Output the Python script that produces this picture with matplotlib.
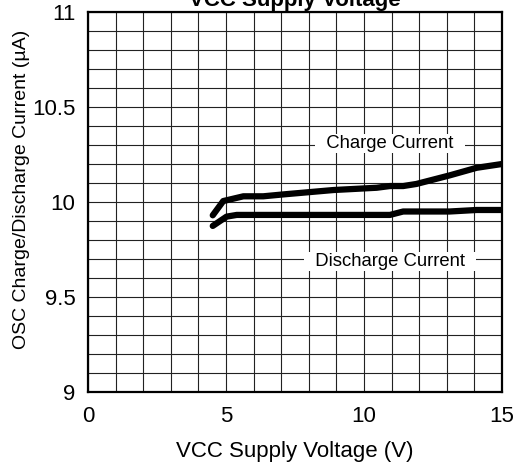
import numpy as np
import matplotlib
matplotlib.use("Agg")
import matplotlib.pyplot as plt

plt.rcParams['font.family'] = ['Liberation Sans', 'DejaVu Sans']

# curve data
charge_v = [4.52, 4.90, 5.63, 6.35, 7.08, 8.89, 10.46, 10.94, 11.42, 11.90, 13.10, 14.08, 15.0]
charge_i = [9.93, 10.005, 10.03, 10.03, 10.04, 10.063, 10.075, 10.084, 10.084, 10.095, 10.14, 10.18, 10.20]
discharge_v = [4.52, 5.02, 5.39, 10.94, 11.42, 13.10, 14.08, 15.0]
discharge_i = [9.874, 9.923, 9.932, 9.932, 9.95, 9.95, 9.958, 9.958]

x_ticks = [0, 5, 10, 15]
y_ticks = [9, 9.5, 10, 10.5, 11]
y_ticklabels = ['9', '9.5', '10', '10.5', '11']

fig = plt.figure(figsize=(5.18, 4.76), dpi=100)
ax = fig.add_axes([88 / 518, 84 / 476, 414 / 518, 380 / 476])

ax.set_xlim(0, 15)
ax.set_ylim(9, 11)
ax.set_xticks(x_ticks)
ax.set_yticks(y_ticks)
ax.set_yticklabels(y_ticklabels)
ax.set_xticks(np.arange(0, 16, 1), minor=True)
ax.set_yticks(np.arange(9, 11.01, 0.1), minor=True)
ax.grid(True, which='both', color='#222222', linewidth=0.8)
ax.set_axisbelow(True)
ax.tick_params(which='both', length=0)
ax.tick_params(axis='x', labelsize=16, pad=10)
ax.tick_params(axis='y', labelsize=16, pad=9)
for s in ax.spines.values():
    s.set_linewidth(1.6)

ax.plot(charge_v, charge_i, color='black', lw=4.5, solid_capstyle='round', solid_joinstyle='round')
ax.plot(discharge_v, discharge_i, color='black', lw=4.5, solid_capstyle='round', solid_joinstyle='round')

ax.text(10.94, 10.31, '  Charge Current  ', ha='center', va='center', fontsize=13.3,
        bbox=dict(facecolor='white', edgecolor='none', boxstyle='square,pad=0.05'))
ax.text(10.94, 9.686, '  Discharge Current  ', ha='center', va='center', fontsize=13.3,
        bbox=dict(facecolor='white', edgecolor='none', boxstyle='square,pad=0.05'))

# title sits partly above the figure edge, as in the source
ax.set_title('VCC Supply Voltage', fontsize=16, fontweight='bold', pad=4)
ax.set_xlabel('VCC Supply Voltage (V)', fontsize=16, labelpad=10)
ax.set_ylabel('OSC Charge/Discharge Current (µA)', fontsize=14, va='center')
ax.yaxis.set_label_coords(-0.16, 0.532)

fig.savefig('out.png', dpi=100)
